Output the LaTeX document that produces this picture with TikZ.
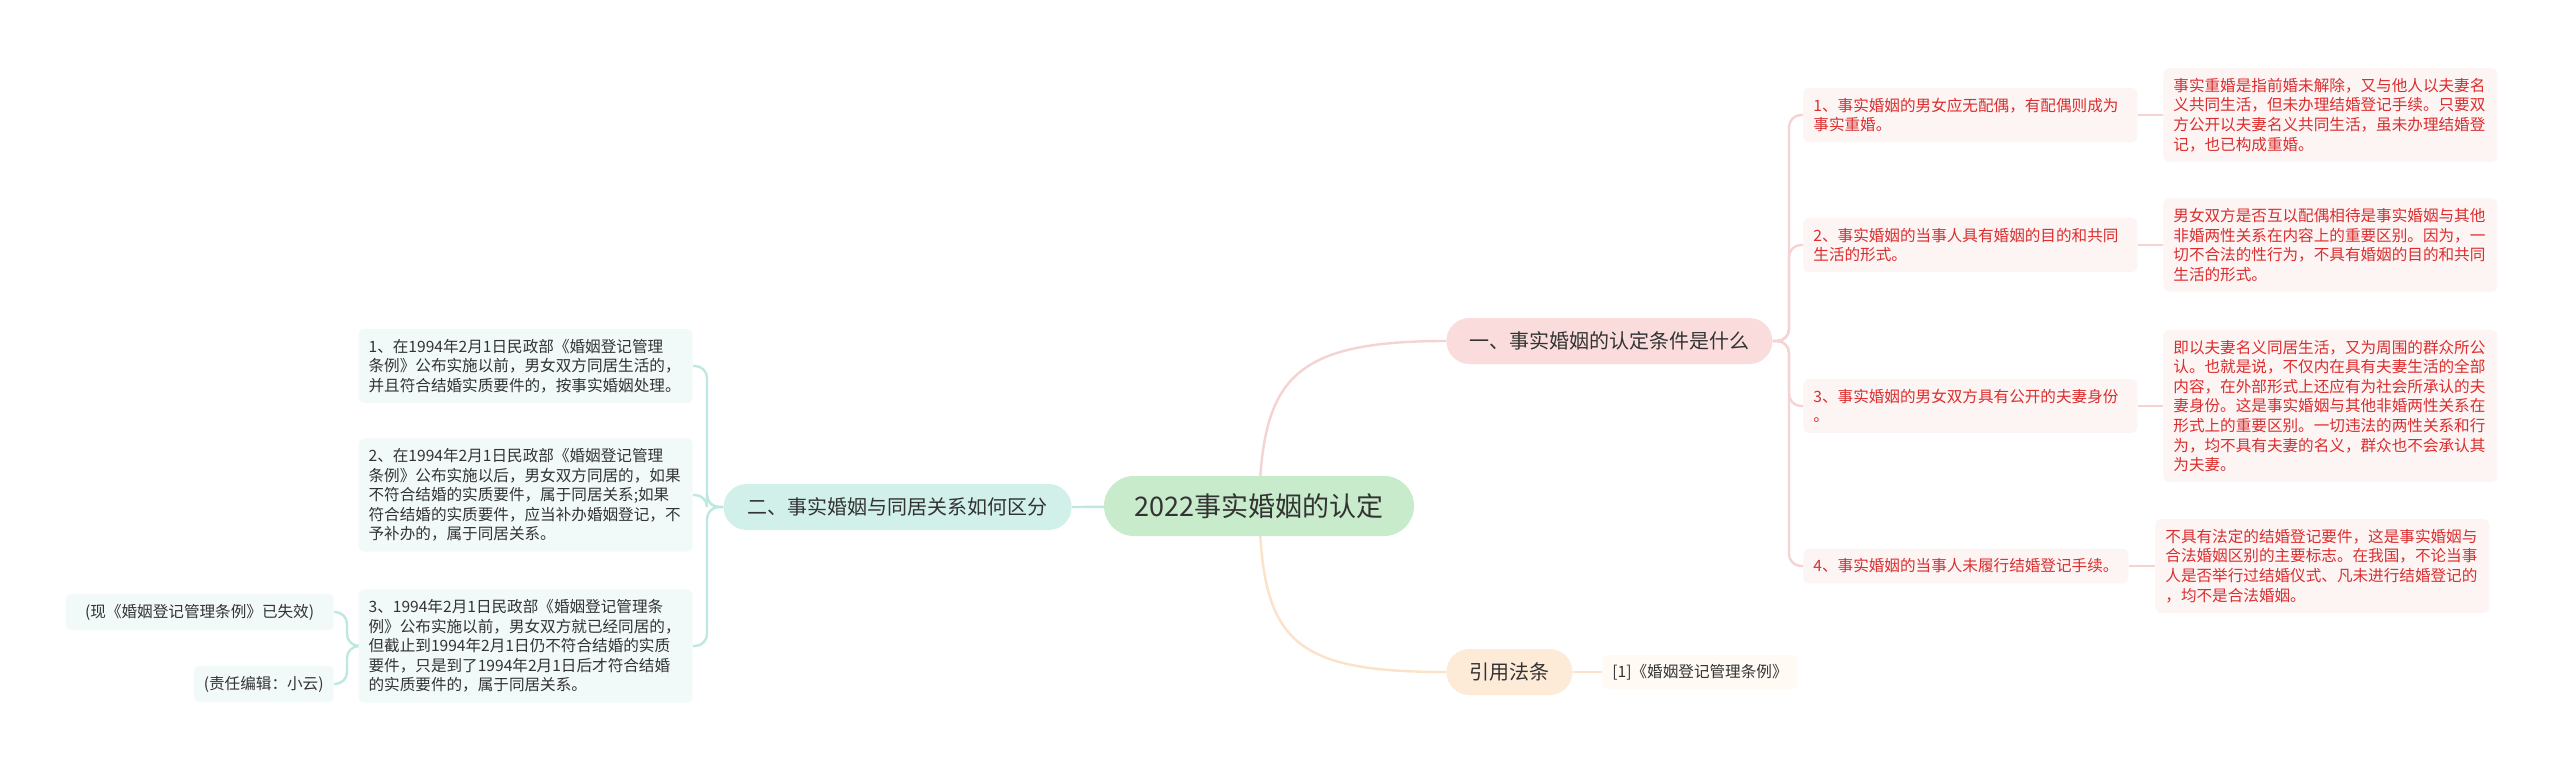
\documentclass[tikz,border=0pt]{standalone}
\usepackage{fontspec}
\setmainfont{Noto Sans CJK SC}
\usetikzlibrary{backgrounds}
\definecolor{txtgray}{HTML}{333333}
\definecolor{rootfill}{HTML}{C7EBCB}
\definecolor{pinkfill}{HTML}{FADCDC}
\definecolor{pinkbox}{HTML}{FDF4F4}
\definecolor{pinkline}{HTML}{F5D3D3}
\definecolor{redtext}{HTML}{DB2E2E}
\definecolor{cyanfill}{HTML}{D2F0EA}
\definecolor{cyanbox}{HTML}{F2FAF9}
\definecolor{cyanline}{HTML}{BFE9E0}
\definecolor{peachfill}{HTML}{FDEBD7}
\definecolor{peachbox}{HTML}{FFFAF4}
\definecolor{peachline}{HTML}{FBE2C8}

\begin{document}
\begin{tikzpicture}[x=0.5pt,y=-0.5pt,line cap=round,
  every node/.style={text=txtgray},
  pill/.style={rounded corners=11.5pt,minimum height=23pt,inner xsep=8pt,font=\fontsize{10}{12}\selectfont},
  redleaf/.style={fill=pinkbox,text=redtext,rounded corners=3pt,inner xsep=5pt,inner ysep=5pt,align=left,font=\fontsize{7.8}{9.8}\selectfont},
  cyanleaf/.style={fill=cyanbox,rounded corners=3pt,inner xsep=5pt,inner ysep=5pt,align=left,font=\fontsize{7.8}{9.8}\selectfont},
  peachleaf/.style={fill=peachbox,rounded corners=3pt,inner xsep=5pt,inner ysep=4pt,font=\fontsize{7.8}{9.8}\selectfont},
  link/.style={line width=1.2pt}]
\useasboundingbox (0,0) rectangle (2560,772);
\node[fill=rootfill,rounded corners=15pt,minimum width=155pt,minimum height=30pt,font=\fontsize{13.5}{16}\selectfont] (root) at (1259,506) {2022事实婚姻的认定};
\node[pill,fill=pinkfill,minimum width=163pt,anchor=west] (cond) at (1446,341) {一、事实婚姻的认定条件是什么};
\node[pill,fill=cyanfill,minimum width=174pt,anchor=east] (diff) at (1072,507) {二、事实婚姻与同居关系如何区分};
\node[pill,fill=peachfill,minimum width=63pt,anchor=west] (law) at (1446,672) {引用法条};
\node[peachleaf,minimum width=95pt,minimum height=17pt,anchor=west] (law1) at (1602,672) {[1]《婚姻登记管理条例》};
\node[redleaf,text width=157pt,anchor=west] (c1) at (1803,115) {1、事实婚姻的男女应无配偶，有配偶则成为\\事实重婚。};
\node[redleaf,text width=157pt,anchor=west] (c2) at (1803,245) {2、事实婚姻的当事人具有婚姻的目的和共同\\生活的形式。};
\node[redleaf,text width=157pt,anchor=west] (c3) at (1803,406) {3、事实婚姻的男女双方具有公开的夫妻身份\\。};
\node[redleaf,anchor=west] (c4) at (1803,566) {4、事实婚姻的当事人未履行结婚登记手续。};
\node[redleaf,text width=157pt,anchor=west] (c1d) at (2163,115) {事实重婚是指前婚未解除，又与他人以夫妻名\\义共同生活，但未办理结婚登记手续。只要双\\方公开以夫妻名义共同生活，虽未办理结婚登\\记，也已构成重婚。};
\node[redleaf,text width=157pt,anchor=west] (c2d) at (2163,245) {男女双方是否互以配偶相待是事实婚姻与其他\\非婚两性关系在内容上的重要区别。因为，一\\切不合法的性行为，不具有婚姻的目的和共同\\生活的形式。};
\node[redleaf,text width=157pt,anchor=west] (c3d) at (2163,406) {即以夫妻名义同居生活，又为周围的群众所公\\认。也就是说，不仅内在具有夫妻生活的全部\\内容，在外部形式上还应有为社会所承认的夫\\妻身份。这是事实婚姻与其他非婚两性关系在\\形式上的重要区别。一切违法的两性关系和行\\为，均不具有夫妻的名义，群众也不会承认其\\为夫妻。};
\node[redleaf,text width=157pt,anchor=west] (c4d) at (2155,566) {不具有法定的结婚登记要件，这是事实婚姻与\\合法婚姻区别的主要标志。在我国，不论当事\\人是否举行过结婚仪式、凡未进行结婚登记的\\，均不是合法婚姻。};
\node[cyanleaf,text width=157pt,anchor=east] (d1) at (693,366) {1、在1994年2月1日民政部《婚姻登记管理\\条例》公布实施以前，男女双方同居生活的，\\并且符合结婚实质要件的，按事实婚姻处理。};
\node[cyanleaf,text width=157pt,anchor=east] (d2) at (693,495) {2、在1994年2月1日民政部《婚姻登记管理\\条例》公布实施以后，男女双方同居的，如果\\不符合结婚的实质要件，属于同居关系;如果\\符合结婚的实质要件，应当补办婚姻登记，不\\予补办的，属于同居关系。};
\node[cyanleaf,text width=157pt,anchor=east] (d3) at (693,646) {3、1994年2月1日民政部《婚姻登记管理条\\例》公布实施以前，男女双方就已经同居的，\\但截止到1994年2月1日仍不符合结婚的实质\\要件，只是到了1994年2月1日后才符合结婚\\的实质要件的，属于同居关系。};
\node[cyanleaf,minimum width=134pt,minimum height=17pt,align=center,anchor=east] (d3a) at (334,612) {(现《婚姻登记管理条例》已失效)};
\node[cyanleaf,minimum width=69pt,minimum height=17pt,align=center,anchor=east] (d3b) at (334,684) {(责任编辑：小云)};
\begin{scope}[on background layer]
\fill[white] (0,0) rectangle (2560,772);
\draw[link,pinkline] (root.center) .. controls (1262,380) and (1290,341) .. (cond.west);
\draw[link,peachline] (root.center) .. controls (1262,640) and (1290,672) .. (law.west);
\draw[link,cyanline] (root.center) -- (diff.east);
\foreach \n in {c1,c2,c3,c4}
  \draw[link,pinkline,rounded corners=6pt] (cond.east) -- (1789,341) |- (\n.west);
\foreach \n in {c1,c2,c3,c4}
  \draw[link,pinkline] (\n.east) -- (\n d.west);
\foreach \n in {d1,d2,d3}
  \draw[link,cyanline,rounded corners=6pt] (diff.west) -- (707,507) |- (\n.east);
\foreach \n in {d3a,d3b}
  \draw[link,cyanline,rounded corners=6pt] (d3.west) -- (347,646) |- (\n.east);
\draw[link,peachline] (law.east) -- (law1.west);
\end{scope}
\end{tikzpicture}
\end{document}
